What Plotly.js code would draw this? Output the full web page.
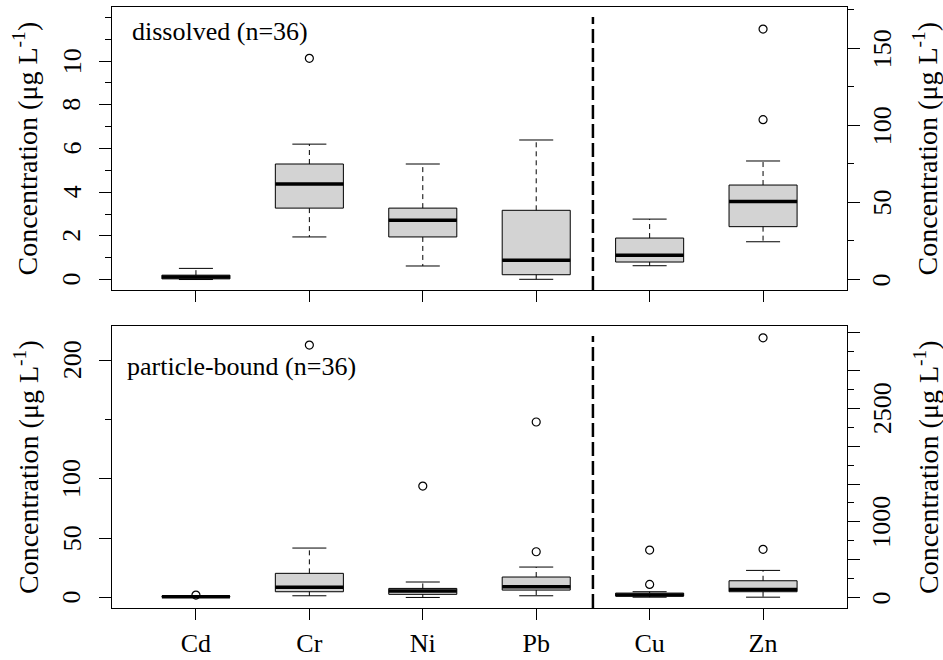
<!DOCTYPE html>
<html>
<head>
<meta charset="utf-8">
<script src="https://cdn.plot.ly/plotly-3.0.1.min.js"></script>
<style>html,body{margin:0;padding:0;background:#fff;}#chart{width:943px;height:660px;}</style>
</head>
<body>
<div id="chart"></div>
<script>
// ---------- data ----------
const catsLeft = ["Cd", "Cr", "Ni", "Pb"];
const catsRight = ["Cu", "Zn"];

// dissolved (n=36)
const disLeftLower  = [0.00, 1.95, 0.62, 0.01];
const disLeftQ1     = [0.03, 3.27, 1.95, 0.22];
const disLeftMedian = [0.12, 4.37, 2.71, 0.88];
const disLeftQ3     = [0.20, 5.29, 3.27, 3.17];
const disLeftUpper  = [0.51, 6.20, 5.29, 6.39];
const disLeftOut    = [[], [10.13], [], []];

const disRightLower  = [8.96, 24.5];
const disRightQ1     = [11.35, 34.3];
const disRightMedian = [15.7, 50.7];
const disRightQ3     = [26.9, 61.3];
const disRightUpper  = [39.2, 76.9];
const disRightOut    = [[], [103.7, 162.5]];

// particle-bound (n=36)
const parLeftLower  = [0.2, 1.5, 0.1, 1.5];
const parLeftQ1     = [0.4, 4.9, 2.7, 6.3];
const parLeftMedian = [0.7, 8.6, 5.5, 9.1];
const parLeftQ3     = [1.0, 20.4, 7.7, 17.3];
const parLeftUpper  = [1.5, 41.7, 13.1, 25.7];
const parLeftOut    = [[2.1], [212.7], [93.9], [147.9, 38.6]];

const parRightLower  = [5, 5];
const parRightQ1     = [20, 77];
const parRightMedian = [35, 108];
const parRightQ3     = [59, 222];
const parRightUpper  = [77, 359];
const parRightOut    = [[174, 627], [637, 3432]];

// axis ticks
const topLeftTicks = [0, 2, 4, 6, 8, 10];
const topLeftMinor = [1, 3, 5, 7, 9, 11, 12];
const topRightTicks = [0, 50, 100, 150];
const topRightMinor = [25, 75, 125, 175];
const botLeftTicks = [0, 50, 100, 200];
const botLeftMinor = [150];
const botRightTicks = [0, 1000, 2500];
const botRightLongUnlabeled = [500, 1500, 2000, 3000, 3500];
const botRightShort = [250, 750, 1250, 1750, 2250, 2750, 3250];

const panelLabels = ["dissolved (n=36)", "particle-bound (n=36)"];
const yTitle = "Concentration (μg L<sup>-1</sup>)";

// ---------- style ----------
const FONT = "Liberation Serif, Times New Roman, serif";
const FS = 26;
const TFS = 28;
const BOXW = 0.6, CAPW = 0.3;
const LEFT_LABEL_X = -0.0544, RIGHT_LABEL_X = 1.0476;
const LEFT_TITLE_X = -0.117, RIGHT_TITLE_X = 1.1075;

const allCats = catsLeft.concat(catsRight);
const posLeft = catsLeft.map((c, i) => i + 1);
const posRight = catsRight.map((c, i) => catsLeft.length + i + 1);

function panelTraces(xa, ya, pos, lower, q1, med, q3, upper, outs) {
  const tr = [];
  tr.push({
    type: "box", x: pos, q1: q1, median: med, q3: q3,
    lowerfence: q1, upperfence: q3, width: BOXW, whiskerwidth: 0,
    boxpoints: false, fillcolor: "#d3d3d3",
    line: {color: "#000", width: 1}, xaxis: xa, yaxis: ya,
    hoverinfo: "skip", showlegend: false
  });
  const wx = [], wy = [], cx = [], cy = [], mx = [], my = [], ox = [], oy = [];
  pos.forEach((p, i) => {
    wx.push(p, p, null, p, p, null);
    wy.push(q3[i], upper[i], null, q1[i], lower[i], null);
    cx.push(p - CAPW / 2, p + CAPW / 2, null, p - CAPW / 2, p + CAPW / 2, null);
    cy.push(upper[i], upper[i], null, lower[i], lower[i], null);
    mx.push(p - BOXW / 2, p + BOXW / 2, null);
    my.push(med[i], med[i], null);
    outs[i].forEach(v => { ox.push(p); oy.push(v); });
  });
  tr.push({type: "scatter", mode: "lines", x: wx, y: wy, xaxis: xa, yaxis: ya,
    line: {color: "#000", width: 1, dash: "5px,4px"}, hoverinfo: "skip", showlegend: false});
  tr.push({type: "scatter", mode: "lines", x: cx, y: cy, xaxis: xa, yaxis: ya,
    line: {color: "#000", width: 1}, hoverinfo: "skip", showlegend: false});
  tr.push({type: "scatter", mode: "lines", x: mx, y: my, xaxis: xa, yaxis: ya,
    line: {color: "#000", width: 3.5}, hoverinfo: "skip", showlegend: false});
  tr.push({type: "scatter", mode: "markers", x: ox, y: oy, xaxis: xa, yaxis: ya,
    marker: {symbol: "circle-open", size: 8, color: "#000", line: {width: 1.2, color: "#000"}},
    hoverinfo: "skip", showlegend: false});
  return tr;
}

const data = [].concat(
  panelTraces("x2", "y3", posLeft, disLeftLower, disLeftQ1, disLeftMedian, disLeftQ3, disLeftUpper, disLeftOut),
  panelTraces("x2", "y4", posRight, disRightLower, disRightQ1, disRightMedian, disRightQ3, disRightUpper, disRightOut),
  panelTraces("x", "y", posLeft, parLeftLower, parLeftQ1, parLeftMedian, parLeftQ3, parLeftUpper, parLeftOut),
  panelTraces("x", "y2", posRight, parRightLower, parRightQ1, parRightMedian, parRightQ3, parRightUpper, parRightOut),
  [{type: "scatter", mode: "markers", x: [], y: [], xaxis: "x", yaxis: "y5", showlegend: false, hoverinfo: "skip"}]
);

const xRange = [0.26, allCats.length + 0.74];
const topDom = [0.5291, 1];
const botDom = [0, 0.4692];
const botRightRange = [-138, 3588];

const baseAxis = {
  showline: true, linecolor: "#000", linewidth: 1, mirror: true,
  showgrid: false, zeroline: false, ticks: "outside", tickcolor: "#000",
  tickwidth: 1, ticklen: 12, fixedrange: true,
  tickfont: {family: FONT, size: FS, color: "#000"}
};

function yAx(extra, ticks, minor, minorLen) {
  return Object.assign({}, baseAxis, {
    tickmode: "array", tickvals: ticks, showticklabels: false,
    minor: {tickmode: "array", tickvals: minor, ticks: "outside", ticklen: minorLen || 6, tickcolor: "#000", tickwidth: 1, showgrid: false}
  }, extra);
}

function tickLabels(vals, yref, x) {
  return vals.map(v => ({
    text: String(v), xref: "paper", yref: yref, x: x, y: v, textangle: -90,
    xanchor: "center", yanchor: "middle", showarrow: false,
    font: {family: FONT, size: FS, color: "#000"}
  }));
}

function titleAnn(yref, x) {
  return {text: yTitle, xref: "paper", yref: yref, x: x, y: 0.5, textangle: -90,
    xanchor: "center", yanchor: "middle", showarrow: false, font: {family: FONT, size: TFS, color: "#000"}};
}

const sep = catsLeft.length + 0.5;

const layout = {
  width: 943, height: 660,
  margin: {l: 112, r: 96, t: 7, b: 52},
  paper_bgcolor: "#fff", plot_bgcolor: "#fff",
  showlegend: false,
  font: {family: FONT, size: FS, color: "#000"},
  xaxis: Object.assign({}, baseAxis, {domain: [0, 1], anchor: "y", range: xRange,
    tickmode: "array", tickvals: allCats.map((c, i) => i + 1), ticktext: allCats,
    ticklen: 11, ticklabelstandoff: 1}),
  xaxis2: Object.assign({}, baseAxis, {domain: [0, 1], anchor: "y3", range: xRange,
    tickmode: "array", tickvals: allCats.map((c, i) => i + 1), showticklabels: false, ticklen: 11}),
  yaxis: yAx({domain: botDom, anchor: "x", range: [-8.8, 228.8]}, botLeftTicks, botLeftMinor),
  yaxis2: yAx({overlaying: "y", side: "right", anchor: "x", range: botRightRange},
    botRightTicks, botRightLongUnlabeled, 12),
  yaxis5: {overlaying: "y", side: "right", anchor: "x", range: botRightRange, showline: false, showgrid: false,
    zeroline: false, tickmode: "array", tickvals: botRightShort, showticklabels: false,
    ticks: "outside", ticklen: 6, tickcolor: "#000", tickwidth: 1, fixedrange: true},
  yaxis3: yAx({domain: topDom, anchor: "x2", range: [-0.48, 12.48]}, topLeftTicks, topLeftMinor),
  yaxis4: yAx({overlaying: "y3", side: "right", anchor: "x2", range: [-6.8, 176.8]}, topRightTicks, topRightMinor),
  shapes: [
    {type: "line", xref: "x2", yref: "y3 domain", x0: sep, x1: sep, y0: 0, y1: 0.965,
      line: {color: "#000", width: 2.5, dash: "14px,5px"}},
    {type: "line", xref: "x", yref: "y domain", x0: sep, x1: sep, y0: 0, y1: 0.965,
      line: {color: "#000", width: 2.5, dash: "14px,5px"}}
  ],
  annotations: [
    {text: panelLabels[0], xref: "x2 domain", yref: "y3 domain", x: 0.0245, y: 0.912,
      xanchor: "left", yanchor: "middle", showarrow: false, font: {family: FONT, size: FS, color: "#000"}},
    {text: panelLabels[1], xref: "x domain", yref: "y domain", x: 0.0177, y: 0.855,
      xanchor: "left", yanchor: "middle", showarrow: false, font: {family: FONT, size: FS, color: "#000"}},
    titleAnn("y3 domain", LEFT_TITLE_X), titleAnn("y3 domain", RIGHT_TITLE_X),
    titleAnn("y domain", LEFT_TITLE_X), titleAnn("y domain", RIGHT_TITLE_X)
  ].concat(
    tickLabels(topLeftTicks, "y3", LEFT_LABEL_X),
    tickLabels(topRightTicks, "y4", RIGHT_LABEL_X),
    tickLabels(botLeftTicks, "y", LEFT_LABEL_X),
    tickLabels(botRightTicks, "y2", RIGHT_LABEL_X)
  )
};

Plotly.newPlot("chart", data, layout, {displayModeBar: false, staticPlot: true});
</script>
</body>
</html>
